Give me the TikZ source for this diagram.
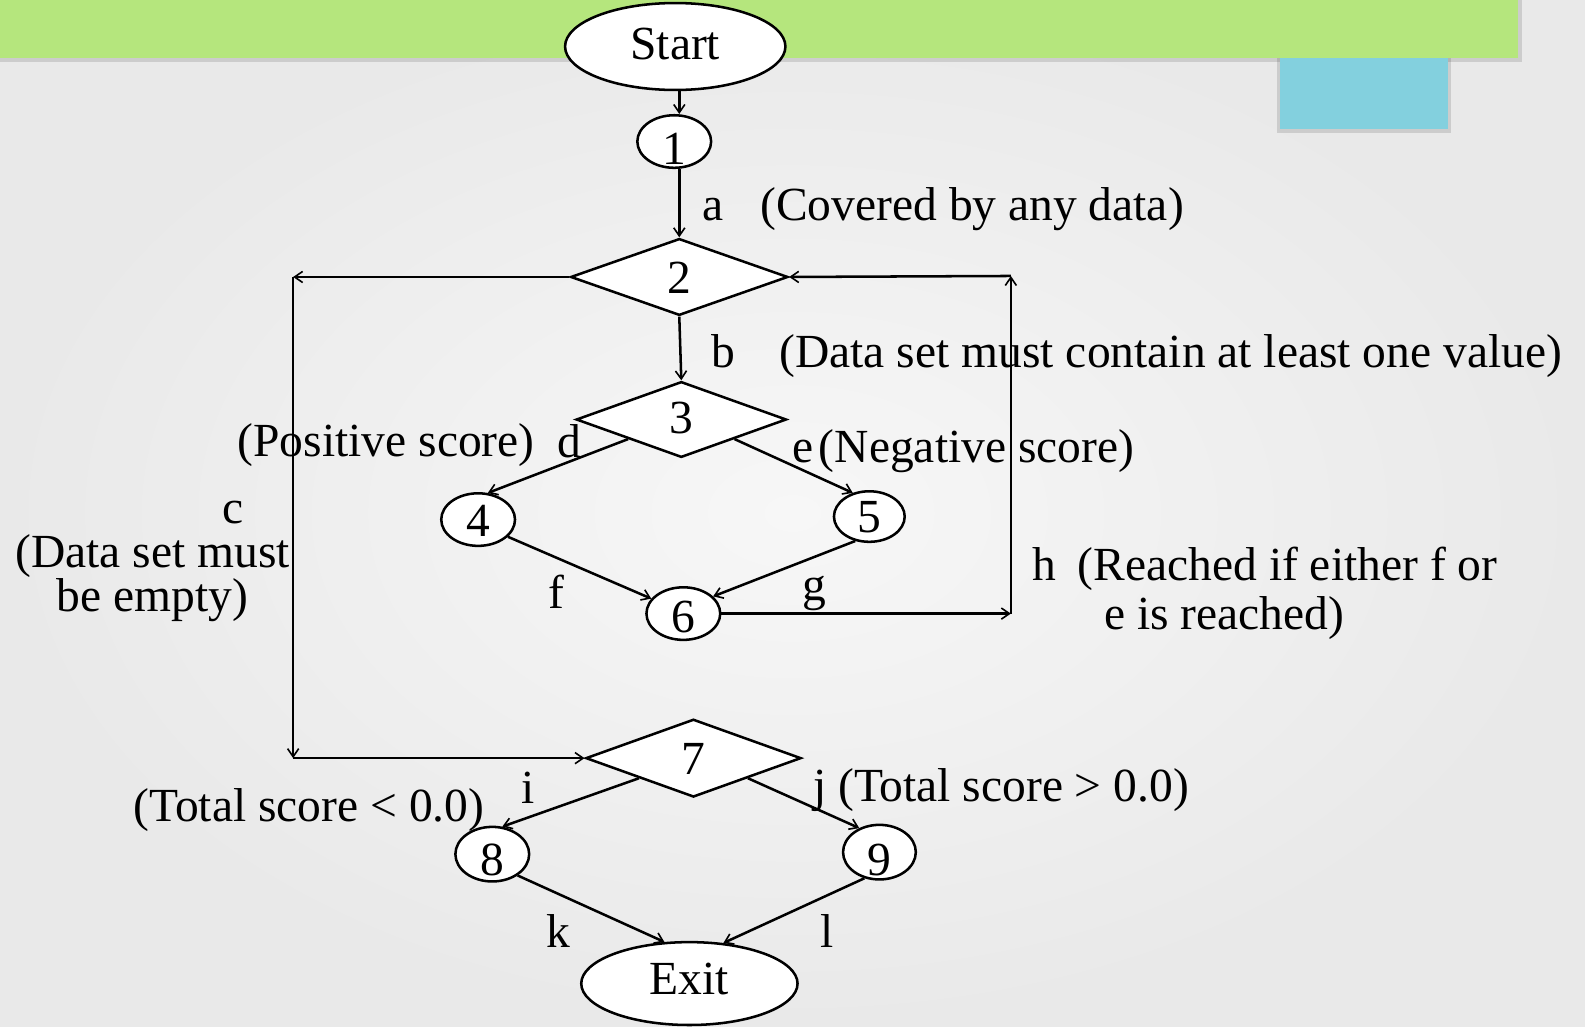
\documentclass[tikz,border=0pt]{standalone}
\usepackage{fontspec}
\setmainfont{Liberation Serif}
\usetikzlibrary{shapes.geometric,arrows.meta}
\definecolor{bannergreen}{RGB}{181,230,125}
\definecolor{tealbox}{RGB}{131,208,222}
\definecolor{bgin}{RGB}{247,247,247}
\definecolor{bgout}{RGB}{233,233,233}
\newcommand\dropto[2]{\smash{\raisebox{-#1}{#2}}}
\begin{document}
\begin{tikzpicture}[x=1pt,y=-1pt,
  every node/.style={font=\fontsize{47}{56}\selectfont, inner sep=0pt},
  oval/.style={ellipse, draw=black, line width=2.5pt, fill=white},
  dec/.style={diamond, draw=black, line width=2.5pt, fill=white, minimum width=213pt, minimum height=76pt},
  small/.style={oval, minimum width=73pt, minimum height=52pt},
  lbl/.style={anchor=base west},
  arr/.style={line width=2.5pt, -{Straight Barb[length=8pt,width=11pt,line width=1.6pt]}},
  thinarr/.style={arr, line width=2pt}]
\useasboundingbox (0,0) rectangle (1568,1015);
% background
\shade[inner color=bgin, outer color=bgout] (0,0) rectangle (1568,1015);
\fill[black, opacity=0.12] (0,0) rectangle (1506,61);
\fill[bannergreen] (0,0) rectangle (1502,57);
\fill[black, opacity=0.12] (1263,57) rectangle (1435,132);
\fill[tealbox] (1266,57) rectangle (1432,128);
% nodes
\node[oval, minimum width=218pt, minimum height=86pt] (start) at (668,46) {\dropto{13pt}{Start}};
\node[small] (n1) at (667,140) {\dropto{23pt}{1}};
\node[dec, minimum width=215pt] (n2) at (672,274) {\dropto{16pt}{2}};
\node[dec, minimum width=208pt, minimum height=75pt] (n3) at (674,415) {\dropto{14pt}{3}};
\node[small] (n4) at (473,514) {\dropto{17pt}{4}};
\node[small, minimum width=70pt, minimum height=50pt] (n5) at (860,511) {\dropto{16pt}{5}};
\node[small] (n6) at (676,607) {\dropto{19pt}{6}};
\node[dec, minimum height=77pt] (n7) at (686,750) {\dropto{16pt}{7}};
\node[small, minimum height=54pt] (n8) at (487,845) {\dropto{21pt}{8}};
\node[small, minimum width=72pt, minimum height=54pt] (n9) at (870,843) {\dropto{23pt}{9}};
\node[oval, minimum width=214pt, minimum height=82pt] (exit) at (682,973) {\dropto{11pt}{Exit}};
% corner points
\coordinate (c1) at (290,274);
\coordinate (c2) at (290,750);
\coordinate (c3) at (1000,607);
\coordinate (c4) at (1000,273);
% labels
\node[lbl] at (695,218) {a};
\node[lbl] at (752,218) {(Covered by any data)};
\node[lbl] at (704,364) {b};
\node[lbl] at (771,364) {(Data set must contain at least one value)};
\node[lbl] at (235,452) {(Positive score)};
\node[lbl] at (551,453) {d};
\node[lbl] at (784,458) {e};
\node[lbl] at (810,458) {(Negative score)};
\node[lbl] at (220,518) {c};
\node[lbl] at (15,561) {(Data set must};
\node[lbl] at (56,605) {be empty)};
\node[lbl] at (542,602) {f};
\node[lbl] at (794,594) {g};
\node[lbl] at (1021,574) {h};
\node[lbl] at (1066,574) {(Reached if either f or};
\node[lbl] at (1092,623) {e is reached)};
\node[lbl] at (516,795) {i};
\node[lbl] at (132,813) {(Total score < 0.0)};
\node[lbl] at (805,793) {j};
\node[lbl] at (829,793) {(Total score > 0.0)};
\node[lbl] at (540,937) {k};
\node[lbl] at (811,937) {l};
% connectors
\draw[arr] ([xshift=4pt]start.south) -- ([xshift=5pt]n1.north);
\draw[arr] ([xshift=5pt]n1.south) -- (n2.north);
\draw[arr] (n2.west) -- (c1);
\draw[thinarr] (c1) -- (c2);
\draw[arr] (c2) -- (n7.west);
\draw[arr] (n2.south) -- (n3.north);
\draw[arr] (n3.south west) -- (n4.70);
\draw[arr] (n3.south east) -- (n5.125);
\draw[arr] (n4.-30) -- (n6.155);
\draw[arr] (n5.-120) -- (n6.30);
\draw[arr] (n6.east) -- (c3);
\draw[thinarr] (c3) -- (c4);
\draw[arr] (c4) -- (n2.east);
\draw[arr] (n7.south west) -- (n8.70);
\draw[arr] (n7.south east) -- (n9.130);
\draw[arr] (n8.-40) -- (exit.121);
\draw[arr] (n9.-120) -- (exit.50);
\end{tikzpicture}
\end{document}
